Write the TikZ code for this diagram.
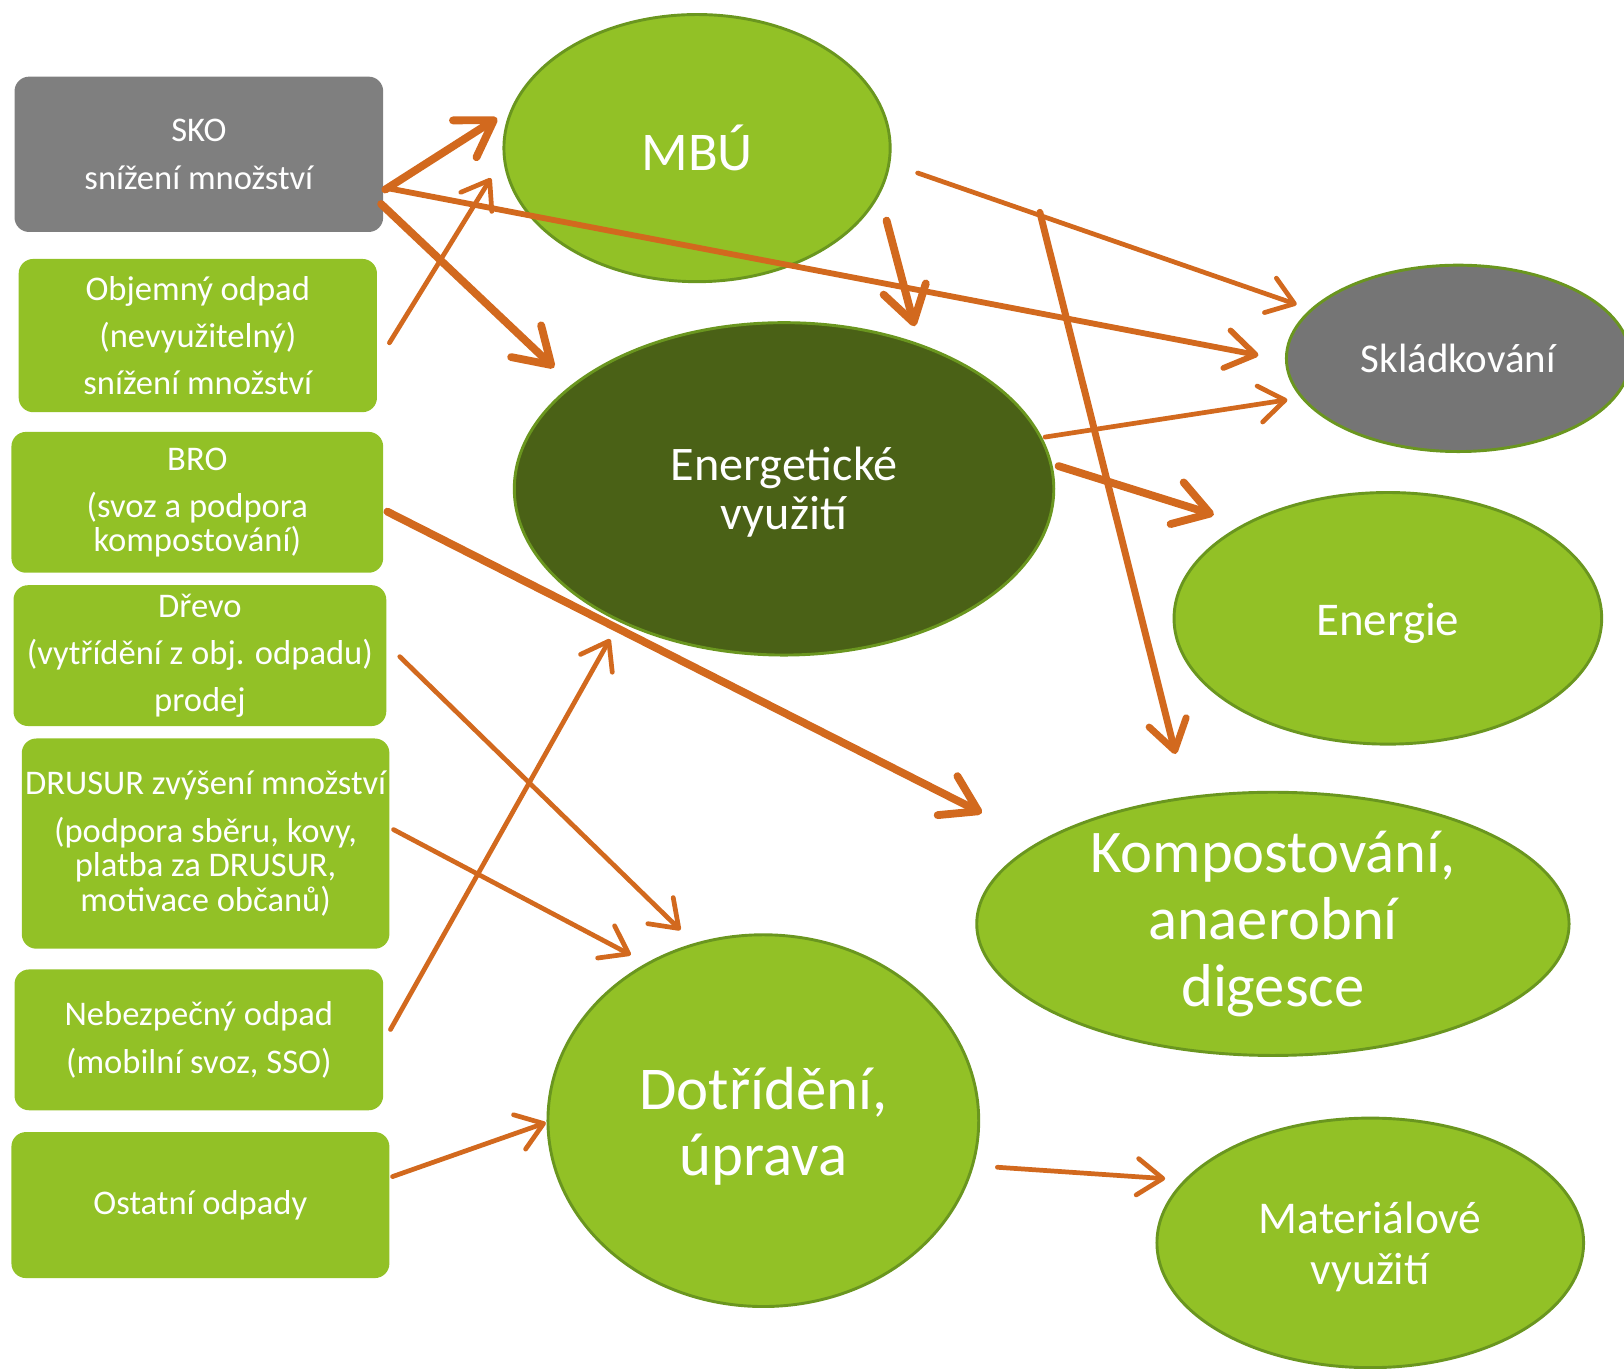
\documentclass[tikz,border=0pt]{standalone}
\usepackage{fontspec}
\setmainfont{Carlito}
\usepackage{xcolor}
\usepackage{tikz}
\tikzset{>=latex}
\usetikzlibrary{arrows.meta,shapes.geometric}
\definecolor{leaf}{HTML}{92C126}
\definecolor{leafline}{HTML}{6A961F}
\definecolor{forest}{HTML}{4A6116}
\definecolor{stone}{HTML}{7F7F7F}
\definecolor{stonedark}{HTML}{757575}
\definecolor{rust}{HTML}{D2691E}
\tikzset{
	srcbox/.style={fill=leaf,rounded corners=8pt,text=white,align=center,inner sep=0pt,font=\fontsize{19}{26}\selectfont},
	blob/.style={ellipse,fill=leaf,draw=leafline,line width=1.6pt,text=white,align=center,inner sep=0pt},
	flow/.style={draw=rust,line width=2.6pt,line cap=round,line join=round,-{Straight Barb[round,length=14pt,width=20pt]}},
	flowmid/.style={flow,line width=3.2pt,-{Straight Barb[round,length=16pt,width=21pt]}},
	flowthick/.style={flow,line width=4.3pt,-{Straight Barb[round,length=19pt,width=24pt]}}
}
\begin{document}
\begin{tikzpicture}[x=0.02cm,y=-0.02cm]
		\useasboundingbox (0,0) rectangle (1568,1321);

		% sources
		\node[srcbox,fill=stone,minimum width=7.12cm,minimum height=3cm] (sko) at (192,149) {SKO\\snížení množství};
		\node[srcbox,minimum width=6.92cm,minimum height=2.96cm] (objem) at (191,324) {Objemný odpad\\(nevyužitelný)\\snížení množství};
		\node[srcbox,minimum width=7.18cm,minimum height=2.72cm] (bro) at (190.5,485) {BRO\\(svoz a podpora\\[-7.4pt]kompostování)};
		\node[srcbox,minimum width=7.2cm,minimum height=2.72cm] (drevo) at (193,633) {Dřevo\\(vytřídění z obj. odpadu)\\prodej};
		\node[srcbox,minimum width=7.1cm,minimum height=4.06cm] (drusur) at (198.5,814.5) {DRUSUR zvýšení množství\\(podpora sběru, kovy,\\[-7pt]platba za DRUSUR,\\[-7pt]motivace občanů)};
		\node[srcbox,minimum width=7.12cm,minimum height=2.72cm] (nebez) at (192,1004) {Nebezpečný odpad\\(mobilní svoz, SSO)};
		\node[srcbox,minimum width=7.3cm,minimum height=2.82cm] (ostatni) at (193.5,1163.5) {Ostatní odpady};

		% targets
		\node[blob,minimum width=7.46cm,minimum height=5.16cm,font=\fontsize{30}{34}\selectfont] (mbu) at (673,143) {MBÚ};
		\node[blob,fill=forest,minimum width=10.42cm,minimum height=6.42cm,font=\fontsize{26.5}{26.6}\selectfont] (energ) at (757,472) {\rule{0pt}{22pt}Energetické\\využití};
		\node[blob,fill=stonedark,minimum width=6.64cm,minimum height=3.6cm,font=\fontsize{22.5}{26}\selectfont] (sklad) at (1408,346) {Skládkování};
		\node[blob,minimum width=8.26cm,minimum height=4.86cm,font=\fontsize{25.8}{28}\selectfont] (energie) at (1340,597) {\rule{0pt}{23pt}Energie};
		\node[blob,minimum width=11.44cm,minimum height=5.08cm,font=\fontsize{33.3}{36.9}\selectfont] (kompost) at (1229,892) {Kompostování,\\anaerobní\\digesce};
		\node[blob,minimum width=8.32cm,minimum height=7.18cm,font=\fontsize{33.4}{36.3}\selectfont] (dotrid) at (737,1082) {\rule{0pt}{29pt}Dotřídění,\\úprava};
		\node[blob,minimum width=8.24cm,minimum height=4.82cm,font=\fontsize{25}{27.8}\selectfont] (mater) at (1323,1200) {\rule{0pt}{22pt}Materiálové\\využití};

		% free ends of the arrows
		\coordinate (sko-a) at (372,183);
		\coordinate (sko-b) at (368,197);
		\coordinate (sko-c) at (376,182);
		\coordinate (objem-a) at (376,331);
		\coordinate (bro-a) at (374,494);
		\coordinate (drevo-a) at (386,634);
		\coordinate (drusur-a) at (380,801);
		\coordinate (nebez-a) at (377,994);
		\coordinate (ostatni-a) at (379,1136);
		\coordinate (mbu-in1) at (480,114);
		\coordinate (mbu-in2) at (474,172);
		\coordinate (mbu-a) at (886,167);
		\coordinate (mbu-b) at (856,213);
		\coordinate (mbu-c) at (1004,205);
		\coordinate (energ-in1) at (535,355);
		\coordinate (energ-in2) at (883,315);
		\coordinate (energ-in3) at (589,617);
		\coordinate (energ-a) at (1009,422);
		\coordinate (energ-b) at (1022,450);
		\coordinate (sklad-in1) at (1252,294);
		\coordinate (sklad-in2) at (1215,343);
		\coordinate (sklad-in3) at (1243,386);
		\coordinate (energie-in) at (1172,497);
		\coordinate (kompost-in1) at (1135,728);
		\coordinate (kompost-in2) at (948,785);
		\coordinate (dotrid-in1) at (657,898);
		\coordinate (dotrid-in2) at (609,922);
		\coordinate (dotrid-in3) at (527,1084);
		\coordinate (dotrid-a) at (963,1127);
		\coordinate (mater-in) at (1125,1138);

		\draw[flowthick] (sko-a) -- (mbu-in1);
		\draw[flowthick] (sko-b) -- (energ-in1);
		\draw[flowmid] (sko-c) -- (sklad-in2);
		\draw[flow] (objem-a) -- (mbu-in2);
		\draw[flow] (mbu-a) -- (sklad-in1);
		\draw[flowthick] (mbu-b) -- (energ-in2);
		\draw[flowmid,line width=3.8pt] (mbu-c) -- (kompost-in1);
		\draw[flow] (energ-a) -- (sklad-in3);
		\draw[flowthick] (energ-b) -- (energie-in);
		\draw[flowthick] (bro-a) -- (kompost-in2);
		\draw[flow] (drevo-a) -- (dotrid-in1);
		\draw[flow] (drusur-a) -- (dotrid-in2);
		\draw[flow] (nebez-a) -- (energ-in3);
		\draw[flow] (ostatni-a) -- (dotrid-in3);
		\draw[flow] (dotrid-a) -- (mater-in);
	\end{tikzpicture}
\end{document}
